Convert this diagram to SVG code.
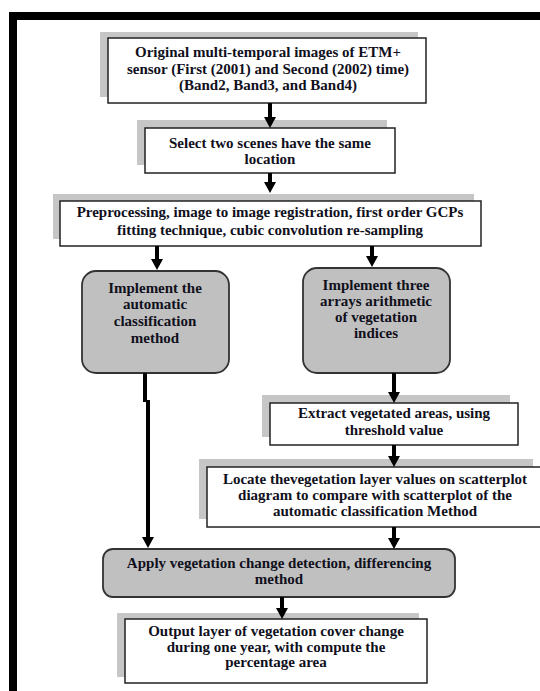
<svg xmlns="http://www.w3.org/2000/svg" width="540" height="691" viewBox="0 0 540 691">
<style>
.bg{fill:#ffffff}
.frame{fill:#000000}
.shadow{fill:#c6c6c6}
.box{fill:#ffffff;stroke:#222222;stroke-width:1.5}
.rbox{fill:#c0c0c0;stroke:#333333;stroke-width:1.8}
.t{font-family:"Liberation Serif","Times New Roman",serif;font-weight:bold;font-size:15px;fill:#10101c;text-anchor:middle}
.conn{fill:none;stroke:#000000;stroke-width:4}
</style>
<defs>
<marker id="ah" markerUnits="userSpaceOnUse" markerWidth="11" markerHeight="12" refX="3" refY="6" orient="auto">
<path d="M0,0 L11,6 L0,12 z" fill="#000000"/>
</marker>
</defs>
<rect class="bg" x="0" y="0" width="540" height="691"/>
<g id="frame">
<rect class="frame" x="9" y="12" width="531" height="8"/>
<rect class="frame" x="9" y="12" width="8" height="679"/>
</g>
<g id="n1">
<rect class="shadow" x="100" y="32" width="318" height="65"/>
<rect class="box" x="108" y="38" width="318" height="65"/>
<text class="t" x="268" y="57">Original multi-temporal images of ETM+</text>
<text class="t" x="268" y="74">sensor (First (2001) and Second (2002) time)</text>
<text class="t" x="268" y="90">(Band2, Band3, and Band4)</text>
</g>
<g id="n2">
<rect class="shadow" x="137" y="120" width="250" height="45"/>
<rect class="box" x="145" y="128" width="250" height="45"/>
<text class="t" x="270" y="148">Select two scenes have the same</text>
<text class="t" x="270" y="164">location</text>
</g>
<g id="n3">
<rect class="shadow" x="53" y="194" width="421" height="45"/>
<rect class="box" x="60" y="201" width="421" height="45"/>
<text class="t" x="270" y="217">Preprocessing, image to image registration, first order GCPs</text>
<text class="t" x="270" y="235">fitting technique, cubic convolution re-sampling</text>
</g>
<g id="n4">
<rect class="rbox" x="82" y="271" width="147" height="102" rx="14" ry="14"/>
<text class="t" x="155" y="293">Implement the</text>
<text class="t" x="155" y="309">automatic</text>
<text class="t" x="155" y="326">classification</text>
<text class="t" x="155" y="343">method</text>
</g>
<g id="n5">
<rect class="rbox" x="303" y="268" width="147" height="105" rx="14" ry="14"/>
<text class="t" x="376" y="290">Implement three</text>
<text class="t" x="376" y="306">arrays arithmetic</text>
<text class="t" x="376" y="322">of vegetation</text>
<text class="t" x="376" y="338">indices</text>
</g>
<g id="n6">
<rect class="shadow" x="262" y="395" width="248" height="42"/>
<rect class="box" x="270" y="403" width="248" height="42"/>
<text class="t" x="394" y="418">Extract vegetated areas, using</text>
<text class="t" x="394" y="435">threshold value</text>
</g>
<g id="n7">
<rect class="shadow" x="199" y="459" width="334" height="60"/>
<rect class="box" x="207" y="467" width="340" height="60"/>
<text class="t" x="375" y="484">Locate thevegetation layer values on scatterplot</text>
<text class="t" x="375" y="500">diagram to compare with scatterplot of the</text>
<text class="t" x="375" y="516">automatic classification Method</text>
</g>
<g id="n8">
<rect class="rbox" x="103" y="549" width="352" height="48" rx="10" ry="10"/>
<text class="t" x="279" y="568">Apply vegetation change detection, differencing</text>
<text class="t" x="279" y="584">method</text>
</g>
<g id="n9">
<rect class="shadow" x="117" y="613" width="302" height="64"/>
<rect class="box" x="125" y="619" width="302" height="64"/>
<text class="t" x="276" y="636">Output layer of vegetation cover change</text>
<text class="t" x="276" y="652">during one year, with compute the</text>
<text class="t" x="276" y="667">percentage area</text>
</g>
<g id="connectors">
<path class="conn" d="M270,103 V120" marker-end="url(#ah)"/>
<path class="conn" d="M270,173 V185" marker-end="url(#ah)"/>
<path class="conn" d="M157,246 V262" marker-end="url(#ah)"/>
<path class="conn" d="M372,246 V259" marker-end="url(#ah)"/>
<path class="conn" d="M145,373 V402 M148,400 V540" marker-end="url(#ah)"/>
<path class="conn" d="M394,373 V395" marker-end="url(#ah)"/>
<path class="conn" d="M394,445 V459" marker-end="url(#ah)"/>
<path class="conn" d="M394,527 V541" marker-end="url(#ah)"/>
<path class="conn" d="M282,597 V611" marker-end="url(#ah)"/>
</g>
</svg>
